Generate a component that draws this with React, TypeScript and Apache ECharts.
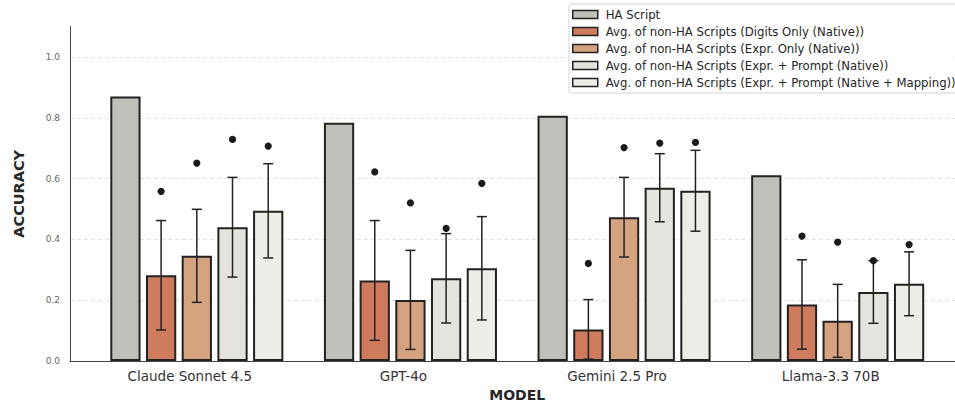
import React, { useEffect, useRef } from "react";
import * as echarts from "echarts";

const categories = ["Claude Sonnet 4.5", "GPT-4o", "Gemini 2.5 Pro", "Llama-3.3 70B"];
const seriesNames = [
  "HA Script",
  "Avg. of non-HA Scripts (Digits Only (Native))",
  "Avg. of non-HA Scripts (Expr. Only (Native))",
  "Avg. of non-HA Scripts (Expr. + Prompt (Native))",
  "Avg. of non-HA Scripts (Expr. + Prompt (Native + Mapping))",
];
const haScript = [0.87, 0.784, 0.807, 0.611];
const digitsMean = [0.282, 0.265, 0.104, 0.186];
const digitsStd = [0.18, 0.197, 0.098, 0.147];
const digitsMax = [0.558, 0.622, 0.321, 0.411];
const exprMean = [0.346, 0.201, 0.473, 0.132];
const exprStd = [0.153, 0.163, 0.131, 0.12];
const exprMax = [0.651, 0.52, 0.702, 0.391];
const promptMean = [0.44, 0.272, 0.57, 0.227];
const promptStd = [0.164, 0.147, 0.112, 0.103];
const promptMax = [0.729, 0.436, 0.717, 0.33];
const mappingMean = [0.494, 0.305, 0.56, 0.254];
const mappingStd = [0.155, 0.17, 0.133, 0.105];
const mappingMax = [0.707, 0.584, 0.719, 0.383];
const yTicks = [0, 0.2, 0.4, 0.6, 0.8, 1.0];

const colors = ["#c0c0ba", "#cf7b5e", "#d5a37f", "#e4e3de", "#eeeee8"];
const FONT = "DejaVu Sans";
const CAT_GAP = 0.19;
const BAR_GAP = 0.18;
const N = 5;

export default function App() {
  const ref = useRef<HTMLDivElement>(null);
  useEffect(() => {
    if (!ref.current) return;
    const chart = echarts.init(ref.current, undefined, { renderer: "svg" });
    const means = [haScript, digitsMean, exprMean, promptMean, mappingMean];
    const stds = [null, digitsStd, exprStd, promptStd, mappingStd];
    const maxes = [null, digitsMax, exprMax, promptMax, mappingMax];

    const barSeries = means.map((arr, h) => ({
      name: seriesNames[h],
      type: "bar",
      xAxisIndex: 1,
      yAxisIndex: 1,
      data: arr,
      barCategoryGap: `${CAT_GAP * 100}%`,
      barGap: `${BAR_GAP * 100}%`,
      itemStyle: { color: colors[h], borderColor: "#222", borderWidth: 2 },
      z: 2,
    }));

    const customSeries = [1, 2, 3, 4].map((h) => ({
      type: "custom",
      xAxisIndex: 1,
      yAxisIndex: 1,
      z: 5,
      silent: true,
      encode: { x: 0, y: [1, 2, 3] },
      data: categories.map((_, i) => [i, means[h][i], (stds[h] as number[])[i], (maxes[h] as number[])[i]]),
      renderItem: (params: any, api: any) => {
        const ci = api.value(0);
        const mean = api.value(1);
        const sd = api.value(2);
        const mx = api.value(3);
        const c = api.coord([ci, mean]);
        const band = api.size([1, 0])[0];
        const groupW = band * (1 - CAT_GAP);
        const w = groupW / (N + (N - 1) * BAR_GAP);
        const x = c[0] - groupW / 2 + h * (w + BAR_GAP * w) + w / 2;
        const yTop = api.coord([ci, mean + sd])[1];
        const yBot = api.coord([ci, mean - sd])[1];
        const yDot = api.coord([ci, mx])[1];
        const cap = 5;
        const ls = { stroke: "#222", lineWidth: 1.5 };
        return {
          type: "group",
          children: [
            { type: "line", shape: { x1: x, y1: yTop, x2: x, y2: yBot }, style: ls },
            { type: "line", shape: { x1: x - cap, y1: yTop, x2: x + cap, y2: yTop }, style: ls },
            { type: "line", shape: { x1: x - cap, y1: yBot, x2: x + cap, y2: yBot }, style: ls },
            { type: "circle", shape: { cx: x, cy: yDot, r: 3.6 }, style: { fill: "#1a1a1a" } },
          ],
        };
      },
    }));

    chart.setOption({
      animation: false,
      textStyle: { fontFamily: FONT },
      grid: [
        { left: 70, right: 0, top: 26.6, bottom: 42, outerBoundsMode: "none", containLabel: false },
        { left: 90, right: 10.5, top: 26.6, bottom: 42, outerBoundsMode: "none", containLabel: false },
      ],
      legend: {
        data: seriesNames,
        orient: "vertical",
        left: 569,
        top: 4,
        padding: [4, 6, 4, 3],
        itemWidth: 25,
        itemHeight: 8,
        itemGap: 4,
        icon: "rect",
        backgroundColor: "rgba(255,255,255,0.85)",
        borderColor: "#d4d4d4",
        borderWidth: 1,
        borderRadius: 3,
        itemStyle: { borderColor: "#222", borderWidth: 1.5 },
        textStyle: { fontFamily: FONT, fontSize: 11.7, color: "#262626", lineHeight: 13, padding: [0, 0, 0, 3] },
      },
      xAxis: [
        {
          type: "value",
          gridIndex: 0,
          min: 0,
          max: 1,
          axisLine: { show: true, lineStyle: { color: "#444", width: 1 } },
          axisTick: { show: false },
          axisLabel: { show: false },
          splitLine: { show: false },
        },
        {
          type: "category",
          gridIndex: 1,
          data: categories,
          axisLine: { show: false },
          axisTick: { show: false },
          axisLabel: { fontFamily: FONT, fontSize: 13.5, color: "#333", margin: 8, padding: [0, 14, 0, 0] },
          name: "MODEL",
          nameLocation: "middle",
          nameGap: 25,
          nameTextStyle: { fontFamily: FONT, fontSize: 14, fontWeight: "bold", color: "#262626" },
        },
      ],
      yAxis: [
        {
          type: "value",
          gridIndex: 0,
          min: 0,
          max: 1.1,
          interval: 0.2,
          axisLine: { show: true, lineStyle: { color: "#444", width: 1 } },
          axisTick: { show: false },
          axisLabel: {
            fontFamily: FONT,
            fontSize: 9,
            color: "#666",
            margin: 10,
            showMaxLabel: false,
            formatter: (v: number) => (yTicks.some((t) => Math.abs(t - v) < 1e-6) ? v.toFixed(1) : ""),
          },
          splitLine: { show: true, showMaxLine: false, lineStyle: { color: "#dcdcdc", type: [4, 3], width: 0.8 } },
          name: "ACCURACY",
          nameLocation: "middle",
          nameGap: 44,
          nameTextStyle: { fontFamily: FONT, fontSize: 14.5, fontWeight: "bold", color: "#262626" },
        },
        {
          type: "value",
          gridIndex: 1,
          min: 0,
          max: 1.1,
          interval: 0.2,
          show: false,
          splitLine: { show: false },
        },
      ],
      series: [...barSeries, ...customSeries],
    });
    return () => chart.dispose();
  }, []);
  return <div ref={ref} style={{ position: "absolute", left: 0, top: 0, width: 955, height: 403 }} />;
}
